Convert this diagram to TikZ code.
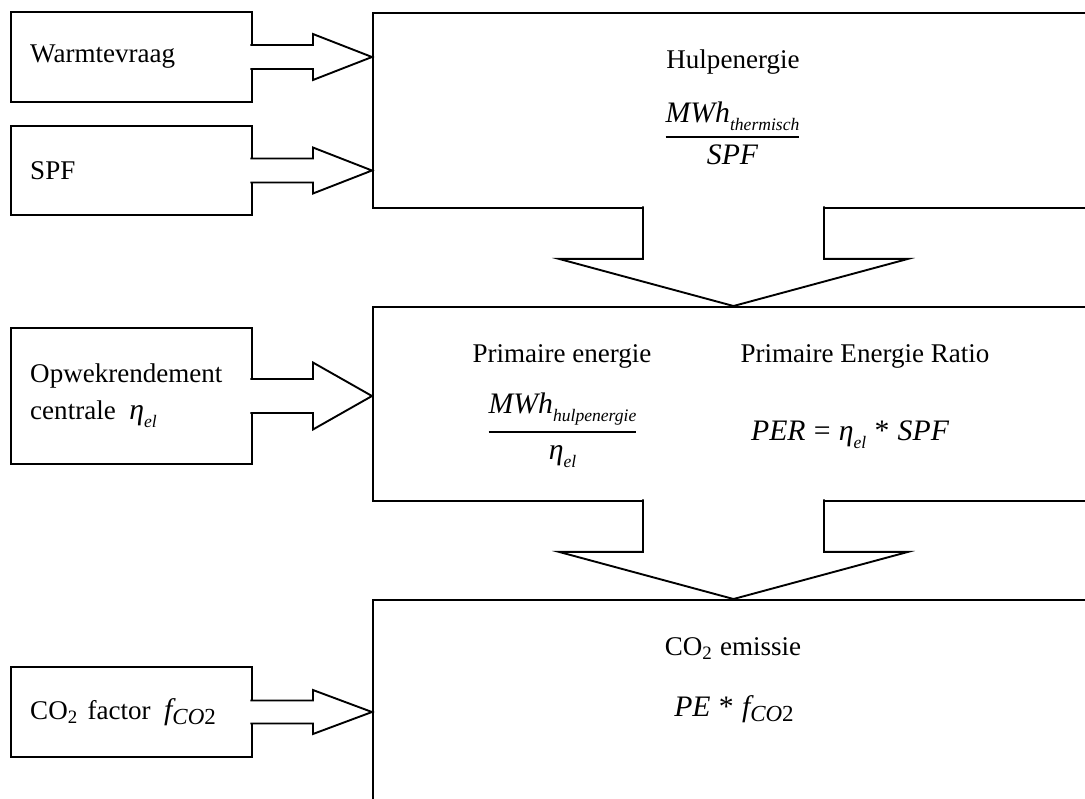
\documentclass[tikz,border=0pt]{standalone}
\usepackage{amsmath}
\usepackage{fontspec}
\setmainfont{Liberation Serif}
\usetikzlibrary{calc}
\newcommand{\fm}[1]{{\fontsize{11}{13}\selectfont\itshape #1}}
\newcommand{\fsub}[2][6.5]{\raisebox{-3pt}{\fontsize{#1}{#1}\selectfont\itshape #2}}
\newcommand{\cosub}{\raisebox{-2pt}{\fontsize{8.5}{8.5}\selectfont\itshape CO\upshape 2}}
% block arrow from an input box into a calculation box
\newcommand{\feed}[4]{% #1 from, #2 to, #3 half shaft, #4 half head
\draw[blkarrow] ($(#1.east)+(-2.5,-#3)$) -- ++(62.5,0) -- ++(0,#3-#4)
  -- (#1.east -| #2.west) -- ($(#1.east)+(60,#4)$) -- ++(0,#3-#4)
  -- ($(#1.east)+(-2.5,#3)$);}
% wide block arrow from one calculation box down to the next
\newcommand{\pass}[2]{%
\draw[blkarrow] ($(#1.south west)+(271,-2.5)$) -- ++(0,52.5) -- ++(-84,0)
  -- ($(#2.north west)+(361.5,0)$) -- ($(#1.south west)+(536,50)$) -- ++(-84,0)
  -- ($(#1.south west)+(452,-2.5)$);}
\tikzset{
every node/.style={font=\fontsize{10}{13.6}\selectfont},
inbox/.style={ % input boxes on the left
draw, line width=0.7pt, fill=white,
text width=2.633cm, align=left,
inner xsep=0.25cm, inner ysep=0pt},
calcbox/.style={ % big boxes, cut off at the right
draw, line width=0.7pt, anchor=north west,
minimum width=9.464cm, inner sep=0pt},
blkarrow/.style={draw, line width=0.7pt, fill=white, line join=miter}}

\begin{document}
\begin{tikzpicture}[x=0.013cm, y=-0.013cm]
	\useasboundingbox (0,0) rectangle (1085,798);
	\clip (0,0) rectangle (1085,798);
	\node[calcbox, minimum height=2.535cm] (hulp) at (372,12) {};
	\node[calcbox, minimum height=2.522cm] (prim) at (372,306) {};
	\node[calcbox, minimum height=2.873cm] (emis) at (372,599) {};
	\node[inbox, minimum height=1.17cm] (warm) at (131.5,57) {Warmtevraag};
	\node[inbox, minimum height=1.157cm] (spf) at (131.5,170.5) {SPF};
	\node[inbox, minimum height=1.768cm] (opw) at (131.5,396) {Opwekrendement\\centrale\ \,\fm{η}\fsub{el}};
	\node[inbox, minimum height=1.17cm] (co2f) at (131.5,712) {CO\textsubscript{2} factor\ \,\fm{f}\cosub};
	\feed{warm}{hulp}{12}{23}
	\feed{spf}{hulp}{12}{23}
	\feed{opw}{prim}{17}{33.5}
	\feed{co2f}{emis}{11.5}{22}
	\pass{hulp}{prim}
	\pass{prim}{emis}
	% texts in the calculation boxes
	\node[anchor=base] (hulpt) at (733,68) {Hulpenergie};
	\node[anchor=base, font=\fontsize{11}{13}\selectfont] (hulpf) at (732.5,144.5)
		{$\genfrac{}{}{0.7pt}{0}{\mbox{\fm{MWh}\fsub{thermisch}}}{\mbox{\fm{SPF}}}$};
	\node[anchor=base] (primt) at (562,362) {Primaire energie};
	\node[anchor=base, font=\fontsize{11}{13}\selectfont] (primf) at (562.5,439.5)
		{$\genfrac{}{}{0.7pt}{0}{\mbox{\fm{MWh}\fsub{hulpenergie}}}{\mbox{\fm{η}\fsub{el}}}$};
	\node[anchor=base] (ratiot) at (865,362) {Primaire Energie Ratio};
	\node[anchor=base, font=\fontsize{11}{13}\selectfont] (ratiof) at (850,440)
		{\fm{PER}\;=\;\fm{η}\fsub{el}\;*\;\fm{SPF}};
	\node[anchor=base] (emist) at (733,655) {CO\textsubscript{2} emissie};
	\node[anchor=base, font=\fontsize{11}{13}\selectfont] (emisf) at (734,716)
		{\fm{PE}\;*\;\fm{f}\cosub};
\end{tikzpicture}
\end{document}
